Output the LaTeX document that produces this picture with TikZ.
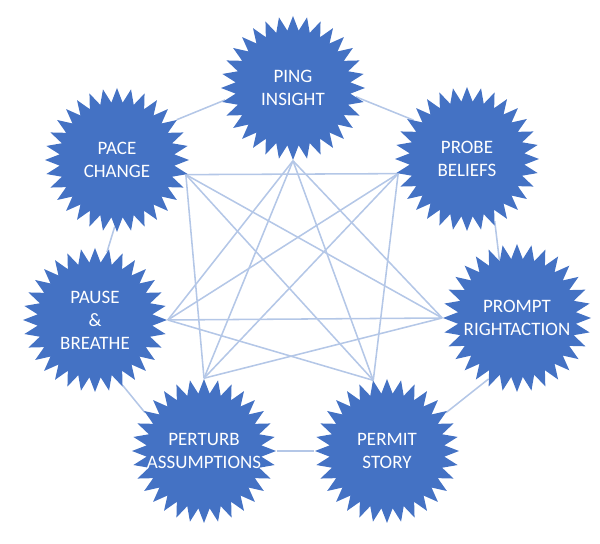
\documentclass[tikz,border=0pt]{standalone}
\usepackage{fontspec}
\setmainfont{Carlito}
\usetikzlibrary{shapes.geometric,backgrounds}
\definecolor{burstblue}{HTML}{4472C4}
\definecolor{linkblue}{HTML}{B4C7E7}
\tikzset{
  burst/.style={star,star points=32,star point ratio=1.25,minimum size=36mm,inner sep=0pt,fill=burstblue},
  word/.style={text=white,align=center,font=\fontsize{13.5}{16.4}\selectfont},
  link/.style={draw=linkblue,line width=1.1pt}
}
\begin{document}
\begin{tikzpicture}[x=0.25mm,y=-0.25mm]
  \useasboundingbox (0,0) rectangle (600,544);
  \node[burst,label={[word]center:PING\\INSIGHT}] (ping) at (293,88) {};
  \node[burst,label={[word]center:PROBE\\BELIEFS}] (probe) at (467,159) {};
  \node[burst,minimum size=37mm,label={[word]center:PROMPT\\RIGHTACTION}] (prompt) at (517,318) {};
  \node[burst,label={[word]center:PERMIT\\STORY}] (permit) at (387,451) {};
  \node[burst,label={[word]center:PERTURB\\ASSUMPTIONS}] (perturb) at (204,451) {};
  \node[burst,label={[word]center:PAUSE\\\&\\BREATHE}] (pause) at (95,320) {};
  \node[burst,label={[word]center:PACE\\CHANGE}] (pace) at (117,160) {};
  \begin{scope}[on background layer]
    % round the ring
    \foreach \a/\b in {ping.190/pace.34,ping.-8/probe.144,probe.-66/prompt.107,
        prompt.-115/permit.33,permit.180/perturb.0,perturb.147/pause.-67,pause.80/pace.-92}
      \draw[link] (\a) -- (\b);
    % across the middle
    \foreach \a/\b in {ping.-90/prompt.180,ping.-90/permit.101,ping.-90/perturb.90,ping.-90/pause.0,
        probe.192/permit.101,probe.192/perturb.90,probe.192/pause.0,probe.192/pace.-12,
        prompt.180/perturb.90,prompt.180/pause.0,prompt.180/pace.-12,
        permit.101/pause.0,permit.101/pace.-12,perturb.90/pace.-12}
      \draw[link] (\a) -- (\b);
  \end{scope}
\end{tikzpicture}
\end{document}
